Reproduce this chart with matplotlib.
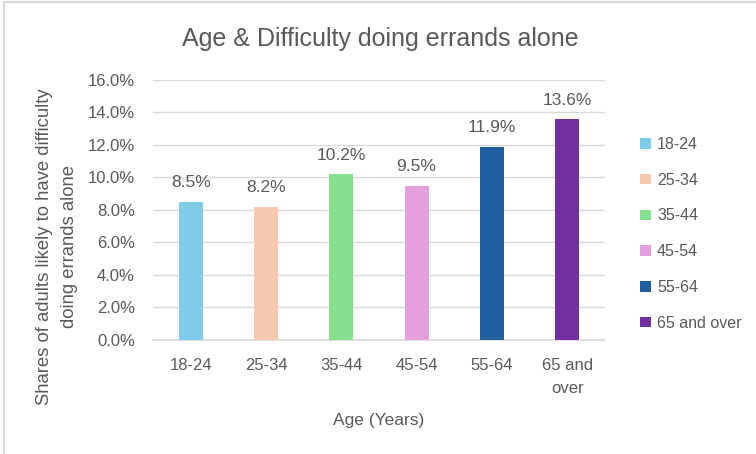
import matplotlib.pyplot as plt
from matplotlib.patches import Patch
from matplotlib.lines import Line2D

categories = ['18-24', '25-34', '35-44', '45-54', '55-64', '65 and over']
tick_labels = ['18-24', '25-34', '35-44', '45-54', '55-64', '65 and\nover']
values = [8.5, 8.2, 10.2, 9.5, 11.9, 13.6]
colors = ['#7ECBEA', '#F7C8AD', '#86E08E', '#E4A0DC', '#1F5F9E', '#7030A0']
yticks = [0, 2, 4, 6, 8, 10, 12, 14, 16]

plt.rcParams['font.family'] = ['Liberation Sans', 'DejaVu Sans']
gray = '#595959'

fig = plt.figure(figsize=(7.56, 4.54), dpi=100)
ax = fig.add_axes([0.2024, 0.2511, 0.5976, 0.5727])

x = list(range(len(categories)))
bars = ax.bar(x, values, width=0.32, color=colors, zorder=3)
for xi, v in zip(x, values):
    ax.text(xi, v + 0.7, f'{v:.1f}%', ha='center', va='bottom',
            fontsize=12.5, color=gray)

ax.set_xlim(-0.5, len(categories) - 0.5)
ax.set_ylim(0, 16)
ax.set_yticks(yticks)
ax.set_yticklabels([f'{t:.1f}%' for t in yticks])
ax.set_xticks(x)
ax.set_xticklabels(tick_labels, linespacing=1.7)
ax.tick_params(axis='both', length=0, labelsize=12, colors=gray)
ax.tick_params(axis='y', pad=13)
ax.tick_params(axis='x', pad=13)
ax.grid(axis='y', color='#D9D9D9', linewidth=1, zorder=0)
for s in ['top', 'right', 'left']:
    ax.spines[s].set_visible(False)
ax.spines['bottom'].set_color('#D9D9D9')
ax.spines['bottom'].set_linewidth(1.2)

ax.set_xlabel('Age (Years)', fontsize=12.5, color=gray, labelpad=12)
ax.set_ylabel('Shares of adults likely to have difficulty\ndoing errands alone',
              fontsize=13.3, color=gray, linespacing=1.6)
ax.yaxis.set_label_coords(-0.166, 0.36)

fig.suptitle('Age & Difficulty doing errands alone', x=0.503, y=0.94,
             fontsize=18, color=gray,
             family=['Liberation Sans Narrow', 'Liberation Sans', 'DejaVu Sans'])

handles = [Patch(facecolor=c, label=l) for c, l in zip(colors, categories)]
fig.legend(handles=handles, loc='upper left', bbox_to_anchor=(0.828, 0.73),
           frameon=False, fontsize=11.5, labelcolor=gray, handlelength=0.65,
           handleheight=0.65, handletextpad=0.4, labelspacing=1.3)

# chart border (left and top edges)
fig.add_artist(Line2D([0.005, 0.005], [0, 0.996], transform=fig.transFigure,
                      color='#D9D9D9', linewidth=1.5))
fig.add_artist(Line2D([0.005, 1], [0.996, 0.996], transform=fig.transFigure,
                      color='#D9D9D9', linewidth=1.5))

fig.savefig('out.png', dpi=100)
